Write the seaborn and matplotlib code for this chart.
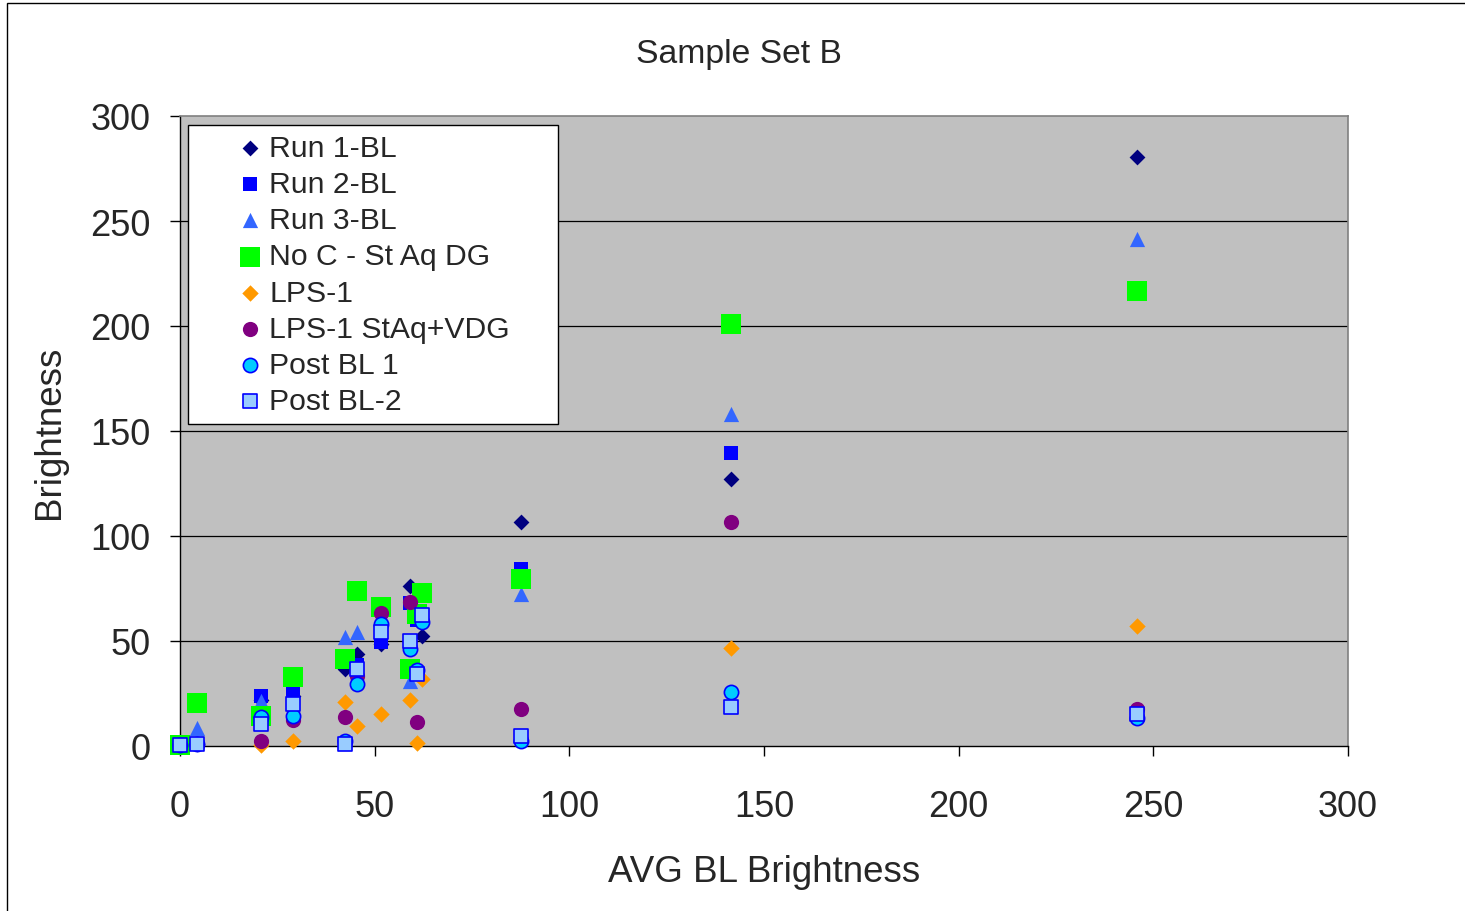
import numpy as np
import pandas as pd
import matplotlib
matplotlib.use("Agg")
import matplotlib.pyplot as plt
import seaborn as sns
from matplotlib.patches import Rectangle

nan = np.nan

# ---- data ----
avg_bl = [0, 4.3, 20.8, 29.0, 42.3, 45.5, 51.5, 59.0, 60.9, 62.1, 87.5, 141.6, 245.9]

run1_bl = [0, 1, 22, 24, 36.7, 43.8, 48.5, 76, nan, 52.5, 106.8, 127, 280.5]
run2_bl = [0, 1, 24, 25.9, 40, 38.6, 49.4, 68, 60, nan, 84.5, 139.5, nan]
run3_bl = [0, 8.6, 21.6, nan, 51.8, 54.1, nan, 31, nan, nan, 72.4, 158.3, 241.5]
no_c_staq_dg = [0.7, 20.5, 14.4, 32.7, 41.4, 73.7, 66, 36.7, 62.9, 73, 79.5, 200.8, 216.6]
lps_1 = [nan, nan, 0.5, 2.5, 20.8, 9.7, 15.2, 21.9, 1.3, 31.9, nan, 46.5, 57.2]
lps_1_staq_vdg = [nan, nan, 2.5, 12.5, 14, 33.5, 63.3, 68.4, 11.6, nan, 17.6, 106.8, 17.5]
post_bl_1 = [0.5, 1, 13.7, 14.4, 2.3, 29.5, 58.1, 46.2, 36, 58.9, 2.3, 25.6, 13.4]
post_bl_2 = [0.5, 1, 10.5, 20, 1, 36.7, 54.1, 50.2, 34.3, 62.5, 5, 18.4, 15.2]

series_names = ["Run 1-BL", "Run 2-BL", "Run 3-BL", "No C - St Aq DG",
                "LPS-1", "LPS-1 StAq+VDG", "Post BL 1", "Post BL-2"]
series_values = [run1_bl, run2_bl, run3_bl, no_c_staq_dg,
                 lps_1, lps_1_staq_vdg, post_bl_1, post_bl_2]

x_ticks = [0, 50, 100, 150, 200, 250, 300]
y_ticks = [0, 50, 100, 150, 200, 250, 300]

# ---- styles ----
markers = ["D", "s", "^", "s", "D", "o", "o", "s"]
faces = ["#000080", "#0000FF", "#3366FF", "#00FF00", "#FF9900", "#800080", "#00CCFF", "#99CCFF"]
edges = ["#000080", "#0000FF", "#3366FF", "#00FF00", "#FF9900", "#800080", "#0000FF", "#0000FF"]
edge_w = [0, 0, 0, 0, 0, 0, 1.2, 1.2]
sizes = [65, 105, 120, 200, 70, 120, 105, 100]

sns.set_style("white")
plt.rcParams["font.family"] = ["Liberation Sans", "DejaVu Sans"]

fig = plt.figure(figsize=(14.65, 9.12), dpi=100)
fig.patch.set_facecolor("white")
ax = fig.add_axes([180 / 1465, 165 / 912, 1168 / 1465, 630 / 912])
ax.set_facecolor("#C0C0C0")

for name, vals, m, fc, ec, lw, s in zip(series_names, series_values, markers,
                                         faces, edges, edge_w, sizes):
    df = pd.DataFrame({"x": avg_bl, "y": vals}).dropna()
    sns.scatterplot(data=df, x="x", y="y", ax=ax, marker=m, color=fc,
                    edgecolor=ec, linewidth=lw, s=s, label=name,
                    clip_on=False, zorder=3)

ax.set_xlim(0, 300)
ax.set_ylim(0, 300)
ax.set_xticks(x_ticks)
ax.set_yticks(y_ticks)
ax.set_xticklabels([str(t) for t in x_ticks])
ax.set_yticklabels([str(t) for t in y_ticks])

for yv in y_ticks[1:-1]:
    ax.axhline(yv, color="black", lw=0.9, zorder=1)

for side in ["left", "bottom"]:
    ax.spines[side].set_color("black")
    ax.spines[side].set_linewidth(1.0)
for side in ["top", "right"]:
    ax.spines[side].set_color("#808080")
    ax.spines[side].set_linewidth(1.2)

ax.tick_params(axis="x", direction="out", length=7, width=1, color="black",
               labelsize=26, pad=24, bottom=True)
ax.tick_params(axis="y", direction="out", length=7, width=1, color="black",
               labelsize=26, pad=14, left=True)

ax.set_xlabel("AVG BL Brightness", fontsize=26.5)
ax.set_ylabel("Brightness", fontsize=26.5)
ax.xaxis.set_label_coords(0.5, -0.172)
ax.yaxis.set_label_coords(-0.097, 0.5)

fig.text(739 / 1465, 1 - 54 / 912, "Sample Set B", fontsize=24.3,
         ha="center", va="center")

leg = ax.legend(loc="upper left",
                bbox_to_anchor=(8 / 1168, (747 - 126) / 630 - 302 / 630, 370 / 1168, 302 / 630),
                mode="expand", borderaxespad=0, fontsize=21.7, frameon=True,
                fancybox=False, edgecolor="black", framealpha=1,
                handlelength=3.5, handletextpad=-1.1, borderpad=0.3,
                labelspacing=0.27)
leg.get_frame().set_linewidth(1.0)

# outer chart border
fig.patches.append(Rectangle((7 / 1465, -0.1), 1.2, 1 - 4 / 912 + 0.1,
                             transform=fig.transFigure, fill=False,
                             edgecolor="black", lw=1.0))

fig.savefig("out.png", dpi=100)
